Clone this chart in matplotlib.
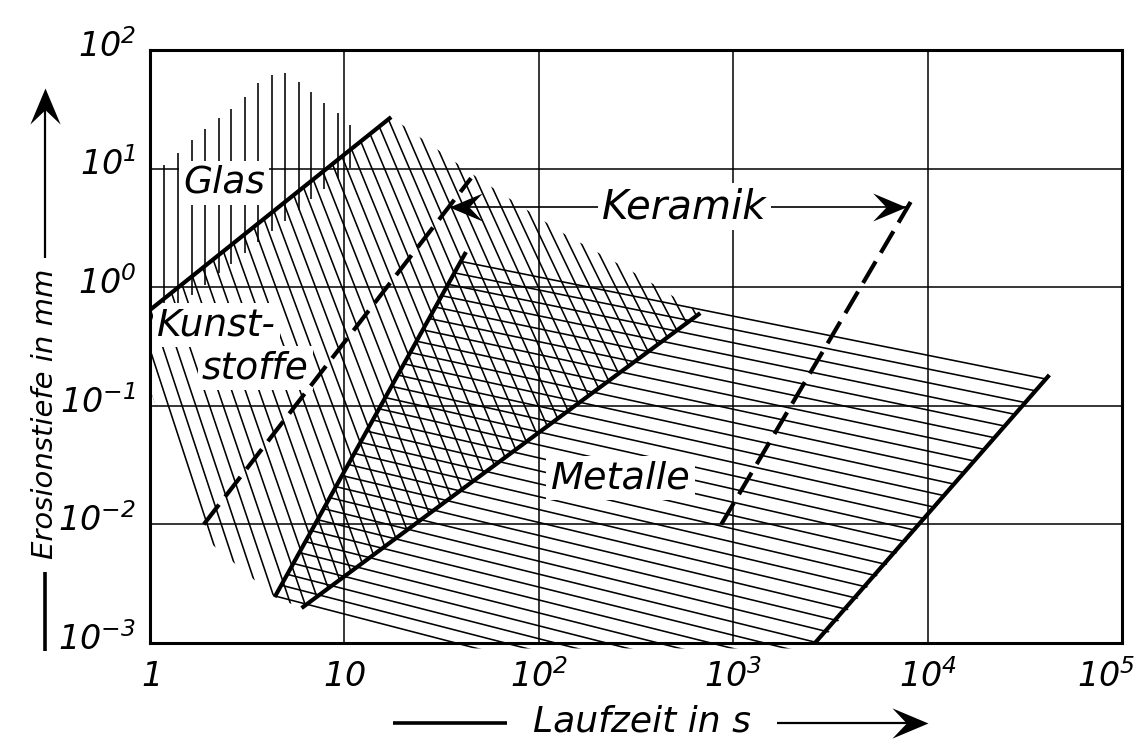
import numpy as np
import matplotlib
matplotlib.use("Agg")
import matplotlib.pyplot as plt
from matplotlib.patches import Polygon
from matplotlib.collections import LineCollection
from matplotlib.lines import Line2D
from matplotlib.path import Path
from matplotlib.transforms import ScaledTranslation

plt.rcParams['font.family'] = ['DejaVu Sans']
plt.rcParams['mathtext.fontset'] = 'custom'
plt.rcParams['mathtext.rm'] = 'DejaVu Sans:italic'
plt.rcParams['mathtext.it'] = 'DejaVu Sans:italic'

# --- axes ticks ---
x_ticks = [1, 1e1, 1e2, 1e3, 1e4, 1e5]
x_tick_labels = ['$1$', '$10$', '$10^2$', '$10^3$', '$10^4$', '$10^5$']
y_ticks = [1e-3, 1e-2, 1e-1, 1e0, 1e1, 1e2]
y_tick_labels = ['$10^{-3}$', '$10^{-2}$', '$10^{-1}$', '$10^0$', '$10^1$', '$10^2$']

# --- boundary lines: Laufzeit [s] / Erosionstiefe [mm] ---
glas_x = [1.0, 17.4]
glas_y = [0.643, 27.2]
kunststoffe_x = [1.89, 44.8]          # dashed
kunststoffe_y = [0.01, 8.3]
keramik_x = [868, 8180]               # dashed
keramik_y = [0.01, 5.23]
line_a_x = [4.38, 42.2]
line_a_y = [0.00244, 1.98]
line_b_x = [6.02, 677]
line_b_y = [0.00197, 0.605]
metalle_x = [2634, 42300]
metalle_y = [0.001, 0.182]

# Keramik range arrow
keramik_arrow_x = [34.5, 7710]
keramik_arrow_y = 4.75

# Glas band: vertical hatch, upper envelope
glas_top_x = [1.18, 1.39, 1.64, 1.91, 2.26, 2.60, 3.07, 3.58, 4.22, 4.92,
              5.81, 6.77, 7.89, 9.31, 10.7]
glas_top_y = [10.7, 13.5, 17.4, 21.6, 26.7, 31.8, 40.2, 52.7, 61.5, 64.0,
              53.7, 44.3, 35.7, 29.4, 23.3]

# Kunststoffe / Keramik band (steep hatch)
band_x = [1.0, 17.4, 50.4, 130, 333, 677, 6.02, 4.38, 1.96, 1.0]
band_y = [0.643, 27.2, 8.0, 2.92, 1.24, 0.605, 0.00197, 0.00244, 0.00739, 0.136]

# Metalle band (shallow hatch)
met_poly_x = [4.38, 42.2, 42300, 2634, 44.8, 6.02]
met_poly_y = [0.00244, 1.98, 0.182, 0.0009, 0.0009, 0.00197]

# --- figure ---
FW, FH = 1147, 746
L, T, R, B = 150, 50, 1122, 643
fig = plt.figure(figsize=(FW / 100, FH / 100), dpi=100)
ax = fig.add_axes([L / FW, 1 - B / FH, (R - L) / FW, (B - T) / FH])
ax.set_xscale('log')
ax.set_yscale('log')
ax.set_xlim(1, 1e5)
ax.set_ylim(1e-3, 1e2)
ax.minorticks_off()
ax.set_axisbelow(True)
ax.grid(True, which='major', color='k', lw=1.1)
for s in ax.spines.values():
    s.set_linewidth(2.2)

HATCH_LW = 1.15


def to_axes(px, py):
    return (np.asarray(px) - L) / (R - L), (B - np.asarray(py)) / (B - T)


def hatch(poly_x, poly_y, segs_px):
    clip = Polygon(np.column_stack([poly_x, poly_y]), closed=True,
                   transform=ax.transData)
    segs = []
    for (x0, y0), (x1, y1) in segs_px:
        ax0, ay0 = to_axes(x0, y0)
        ax1, ay1 = to_axes(x1, y1)
        segs.append([(ax0, ay0), (ax1, ay1)])
    lc = LineCollection(segs, colors='k', linewidths=HATCH_LW,
                        transform=ax.transAxes, zorder=2)
    lc.set_clip_path(clip)
    ax.add_collection(lc, autolim=False)


# steep hatch, slightly fanned (pixel grid of the axes)
steep = []
for u in np.arange(100, 800, 13.7):
    k = np.interp(u, [148, 720], [3.1, 1.9])
    ys = np.array([-200.0, 900.0])
    xs = u + (ys - 406) / k
    steep.append(((xs[0], ys[0]), (xs[1], ys[1])))
hatch(band_x, band_y, steep)

# shallow hatch for Metalle
shallow = []
for v in np.arange(250, 790, 13.3):
    k = np.interp(v, [309, 717], [0.20, 0.26])
    xs = np.array([100.0, 1200.0])
    ys = v + (xs - 735) * k
    shallow.append(((xs[0], ys[0]), (xs[1], ys[1])))
hatch(met_poly_x, met_poly_y, shallow)

# vertical hatch for Glas, down to just below the Glas line
lg = np.log10(glas_top_x)
glas_at = 10 ** np.interp(lg, np.log10(glas_x), np.log10(glas_y))
ax.vlines(glas_top_x, glas_at * 0.70, glas_top_y, colors='k', lw=HATCH_LW, zorder=2)

# thick boundaries
thick = dict(color='k', lw=3.0, solid_capstyle='butt', zorder=5)
ax.plot(glas_x, glas_y, **thick)
ax.plot(line_a_x, line_a_y, **thick)
ax.plot(line_b_x, line_b_y, **thick)
ax.plot(metalle_x, metalle_y, **thick)
ax.plot(kunststoffe_x, kunststoffe_y, dashes=(6, 2.4), dash_capstyle='butt', **thick)
ax.plot(keramik_x, keramik_y, dashes=(6, 2.4), dash_capstyle='butt', **thick)


def dart(angle):
    v = np.array([(0, 0), (-1, 0.42), (-0.6, 0), (-1, -0.42), (0, 0)], float)
    a = np.deg2rad(angle)
    rot = np.array([[np.cos(a), -np.sin(a)], [np.sin(a), np.cos(a)]])
    return Path(v @ rot.T, [Path.MOVETO, Path.LINETO, Path.LINETO,
                            Path.LINETO, Path.CLOSEPOLY])


# Keramik arrow
ax.plot(keramik_arrow_x, [keramik_arrow_y] * 2, color='k', lw=1.2, zorder=2.5)
ax.plot([keramik_arrow_x[0]], [keramik_arrow_y], marker=dart(180), ms=48,
        color='k', mew=0, zorder=2.6)
ax.plot([keramik_arrow_x[1]], [keramik_arrow_y], marker=dart(0), ms=48,
        color='k', mew=0, zorder=2.6)

# region labels
white = dict(facecolor='white', edgecolor='none', pad=3)
lab = dict(style='italic', zorder=4, bbox=white)
ax.text(2.4, 7.6, 'Glas', fontsize=27, ha='center', va='center', **lab)
ax.text(1.086, 0.48, 'Kunst-', fontsize=27, ha='left', va='center', **lab)
ax.text(1.85, 0.208, 'stoffe', fontsize=27, ha='left', va='center', **lab)
ax.text(263, 0.0246, 'Metalle', fontsize=27.5, ha='center', va='center', **lab)
ax.text(561, keramik_arrow_y, 'Keramik', fontsize=29, ha='center', va='center', **lab)

# ticks
ax.set_xticks(x_ticks)
ax.set_xticklabels(x_tick_labels, fontsize=24)
ax.set_yticks(y_ticks)
ax.set_yticklabels(y_tick_labels, fontsize=24)
ax.tick_params(axis='x', length=0, pad=12)
ax.tick_params(axis='y', length=0, pad=10)
for t in ax.get_yticklabels():
    t.set_transform(t.get_transform() + ScaledTranslation(0, 0.07, fig.dpi_scale_trans))
last = ax.get_xticklabels()[-1]
last.set_transform(last.get_transform() + ScaledTranslation(-0.16, 0, fig.dpi_scale_trans))


# axis titles with arrows (figure pixel positions)
def fpt(px, py):
    return px / FW, 1 - py / FH


def fline(p0, p1, lw):
    (x0, y0), (x1, y1) = fpt(*p0), fpt(*p1)
    fig.add_artist(Line2D([x0, x1], [y0, y1], color='k', lw=lw,
                          solid_capstyle='butt', transform=fig.transFigure))


fig.text(*fpt(642, 722), 'Laufzeit in s', fontsize=26, style='italic',
         ha='center', va='center')
fline((393, 723), (507, 723), 2.6)
fline((777, 723), (915, 723), 1.6)
fig.add_artist(Line2D([fpt(928, 723)[0]], [fpt(928, 723)[1]], marker=dart(0),
                      ms=52, color='k', mew=0, transform=fig.transFigure))

fig.text(*fpt(45, 414), 'Erosionstiefe in mm', fontsize=21, style='italic',
         rotation=90, ha='center', va='center')
fline((45, 651), (45, 572), 2.6)
fline((45, 258), (45, 100), 1.6)
fig.add_artist(Line2D([fpt(45, 88)[0]], [fpt(45, 88)[1]], marker=dart(90),
                      ms=52, color='k', mew=0, transform=fig.transFigure))

fig.savefig('out.png', dpi=100, facecolor='white')
